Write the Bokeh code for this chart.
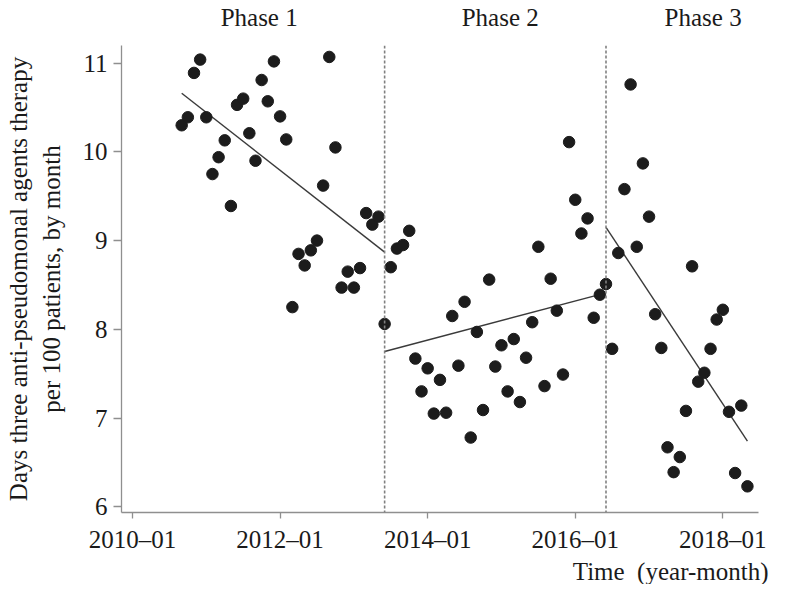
from bokeh.plotting import figure
from bokeh.models import Range1d, FixedTicker, Span, LinearAxis, Title
from bokeh.embed import file_html
from bokeh.resources import INLINE

# months since 2010-01 (0 = 2010-01); observations run monthly from 2010-09 to 2018-05
first_month = 8
values = [
    10.30, 10.39, 10.89, 11.04, 10.39, 9.75, 9.94, 10.13, 9.39, 10.53,
    10.60, 10.21, 9.90, 10.81, 10.57, 11.02, 10.40, 10.14, 8.25, 8.85,
    8.72, 8.89, 9.00, 9.62, 11.07, 10.05, 8.47, 8.65, 8.47, 8.69,
    9.31, 9.18, 9.27, 8.06, 8.70, 8.91, 8.95, 9.11, 7.67, 7.30,
    7.56, 7.05, 7.43, 7.06, 8.15, 7.59, 8.31, 6.78, 7.97, 7.09,
    8.56, 7.58, 7.82, 7.30, 7.89, 7.18, 7.68, 8.08, 8.93, 7.36,
    8.57, 8.21, 7.49, 10.11, 9.46, 9.08, 9.25, 8.13, 8.39, 8.51,
    7.78, 8.86, 9.58, 10.76, 8.93, 9.87, 9.27, 8.17, 7.79, 6.67,
    6.39, 6.56, 7.08, 8.71, 7.41, 7.51, 7.78, 8.11, 8.22, 7.07,
    6.38, 7.14, 6.23,
]
months = list(range(first_month, first_month + len(values)))

# interruption points (2013-06, 2016-06)
breaks = [41, 77]

# fitted segment trends: [start month, end month], [start value, end value]
trend_months = [[8, 41], [41, 77], [77, 100]]
trend_values = [[10.66, 8.87], [7.75, 8.41], [9.15, 6.74]]

phase_names = ["Phase 1", "Phase 2", "Phase 3"]
phase_label_months = [20.6, 59.8, 92.8]

tick_months = [0, 24, 48, 72, 96]
tick_labels = ["2010\u201301", "2012\u201301", "2014\u201301", "2016\u201301", "2018\u201301"]
y_ticks = [6, 7, 8, 9, 10, 11]

FONT = "Liberation Serif"
AXIS_GRAY = "#8f8f8f"
TEXT = "#1a1a1a"

p = figure(width=773, height=584, output_backend="svg", toolbar_location=None,
           x_range=Range1d(-1.79, 101.8), y_range=Range1d(5.935, 11.199),
           min_border_left=121, min_border_right=15, min_border_top=44,
           min_border_bottom=71)
p.outline_line_color = None
p.xgrid.visible = False
p.ygrid.visible = False

for b in breaks:
    p.add_layout(Span(location=b, dimension="height", line_color="#808080",
                      line_width=1.6, line_dash="3 2"))

for tm, tv in zip(trend_months, trend_values):
    p.line(tm, tv, line_color="#3a3a3a", line_width=1.4)

p.scatter(months, values, size=11.5, fill_color="#1c1c1c", line_color="#1c1c1c")

# axes
p.xaxis.ticker = FixedTicker(ticks=tick_months)
p.xaxis.major_label_overrides = {t: l for t, l in zip(tick_months, tick_labels)}
p.yaxis.ticker = FixedTicker(ticks=y_ticks)
for ax in (p.xaxis[0], p.yaxis[0]):
    ax.axis_line_color = AXIS_GRAY
    ax.axis_line_width = 1.3
    ax.major_tick_line_color = AXIS_GRAY
    ax.major_tick_line_width = 1.3
    ax.minor_tick_line_color = None
    ax.major_tick_in = 0
    ax.major_label_text_font = FONT
    ax.major_label_text_font_size = "25px"
    ax.major_label_text_color = TEXT
p.xaxis.major_tick_out = 6
p.yaxis.major_tick_out = 8
p.xaxis.major_label_standoff = 7
p.yaxis.major_label_standoff = 6

p.yaxis.axis_label = "Days three anti-pseudomonal agents therapy\nper 100 patients, by month"
p.yaxis.axis_label_text_font = FONT
p.yaxis.axis_label_text_font_size = "25px"
p.yaxis.axis_label_text_font_style = "normal"
p.yaxis.axis_label_text_color = TEXT
p.yaxis.axis_label_standoff = 15

# phase names as an unlined axis above the frame
phase_axis = LinearAxis(ticker=FixedTicker(ticks=phase_label_months),
                        major_label_overrides={m: n for m, n in zip(phase_label_months, phase_names)},
                        axis_line_color=None, major_tick_line_color=None,
                        minor_tick_line_color=None, major_label_standoff=9,
                        major_label_text_font=FONT, major_label_text_font_size="25px",
                        major_label_text_color=TEXT)
p.add_layout(phase_axis, "above")

p.add_layout(Title(text="Time\u00a0\u00a0(year-month)", align="right", offset=-10, standoff=0,
                   text_font=FONT, text_font_size="25px", text_font_style="normal",
                   text_color=TEXT), "below")

open("out.html", "w").write(file_html(p, INLINE))
